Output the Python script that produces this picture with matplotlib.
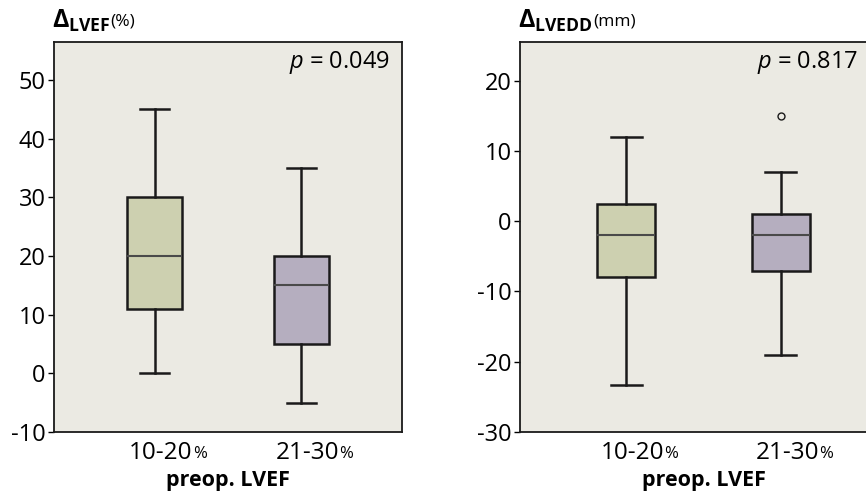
import matplotlib.pyplot as plt

plt.rcParams['font.family'] = ['Open Sans', 'DejaVu Sans']
plt.rcParams['mathtext.fontset'] = 'custom'
plt.rcParams['mathtext.rm'] = 'Open Sans'
plt.rcParams['mathtext.bf'] = 'Open Sans:bold'
plt.rcParams['mathtext.it'] = 'Open Sans:italic'

groups = ["10-20", "21-30"]

# LVEF change (%): whisker low, q1, median, q3, whisker high
lvef_whislo = [0, -5]
lvef_q1 = [11, 5]
lvef_med = [20, 15]
lvef_q3 = [30, 20]
lvef_whishi = [45, 35]
lvef_fliers = [[], []]
lvef_p = "0.049"

# LVEDD change (mm)
lvedd_whislo = [-23.3, -19]
lvedd_q1 = [-8, -7.1]
lvedd_med = [-2, -2]
lvedd_q3 = [2.5, 1]
lvedd_whishi = [12, 7]
lvedd_fliers = [[], [15]]
lvedd_p = "0.817"

box_colors = ["#cdd0b0", "#b5aebf"]
bg = "#ebeae3"


def make_stats(lo, q1, med, q3, hi, fl):
    return [dict(whislo=lo[i], q1=q1[i], med=med[i], q3=q3[i], whishi=hi[i],
                 fliers=fl[i]) for i in range(len(lo))]


def draw_panel(ax, stats, ylim, yticks):
    ax.set_facecolor(bg)
    bp = ax.bxp(stats, positions=[1, 2], widths=0.38, patch_artist=True,
                showfliers=True,
                boxprops=dict(linewidth=1.8, edgecolor="#1a1a1a"),
                whiskerprops=dict(linewidth=1.8, color="#1a1a1a"),
                capprops=dict(linewidth=1.8, color="#1a1a1a"),
                medianprops=dict(linewidth=1.5, color="#4a4a4a"),
                flierprops=dict(marker="o", markersize=5, markerfacecolor="none",
                                markeredgecolor="#1a1a1a", markeredgewidth=1.0),
                capwidths=0.2)
    for patch, c in zip(bp["boxes"], box_colors):
        patch.set_facecolor(c)
    ax.set_xlim(0.315, 2.685)
    ax.set_ylim(*ylim)
    ax.set_yticks(yticks)
    ax.set_yticklabels([str(t) for t in yticks], fontsize=17)
    ax.set_xticks([1, 2])
    ax.set_xticklabels([])
    tr = ax.get_xaxis_transform()
    for pos, g in zip([1, 2], groups):
        ax.annotate(g, xy=(pos, 0), xycoords=tr, xytext=(27.5, -15),
                    textcoords="offset points", ha="right", va="center",
                    fontsize=17.5)
        ax.annotate("%", xy=(pos, 0), xycoords=tr, xytext=(27.5, -15.5),
                    textcoords="offset points", ha="left", va="center",
                    fontsize=12)
    ax.tick_params(axis="x", length=0)
    ax.tick_params(axis="y", length=4, width=1, pad=2)
    for s in ax.spines.values():
        s.set_linewidth(1.3)
        s.set_color("#1a1a1a")
    ax.set_xlabel("preop. LVEF", fontsize=15.5, fontweight="bold", labelpad=24)


fig = plt.figure(figsize=(8.66, 4.96), dpi=100)
ax1 = fig.add_axes([54 / 866, 64 / 496, 348 / 866, 390 / 496])
ax2 = fig.add_axes([520 / 866, 64 / 496, 367 / 866, 390 / 496])

draw_panel(ax1, make_stats(lvef_whislo, lvef_q1, lvef_med, lvef_q3, lvef_whishi, lvef_fliers),
           (-10, 56.5), [-10, 0, 10, 20, 30, 40, 50])
draw_panel(ax2, make_stats(lvedd_whislo, lvedd_q1, lvedd_med, lvedd_q3, lvedd_whishi, lvedd_fliers),
           (-30, 25.5), [-30, -20, -10, 0, 10, 20])

fig.text(390 / 866, 1 - 62 / 496, r"$\mathit{p}$ = " + lvef_p, ha="right", va="center", fontsize=17)
fig.text(858 / 866, 1 - 62 / 496, r"$\mathit{p}$ = " + lvedd_p, ha="right", va="center", fontsize=17)

fig.text(52 / 866, 1 - 28 / 496, r"$\mathbf{\Delta}_{\mathbf{LVEF}}$", fontsize=18, va="baseline")
fig.text(110 / 866, 1 - 25 / 496, "(%)", fontsize=12.5, va="baseline")
fig.text(518 / 866, 1 - 28 / 496, r"$\mathbf{\Delta}_{\mathbf{LVEDD}}$", fontsize=18, va="baseline")
fig.text(593 / 866, 1 - 25 / 496, "(mm)", fontsize=12.5, va="baseline")

fig.savefig("out.png", dpi=100, facecolor="white")
